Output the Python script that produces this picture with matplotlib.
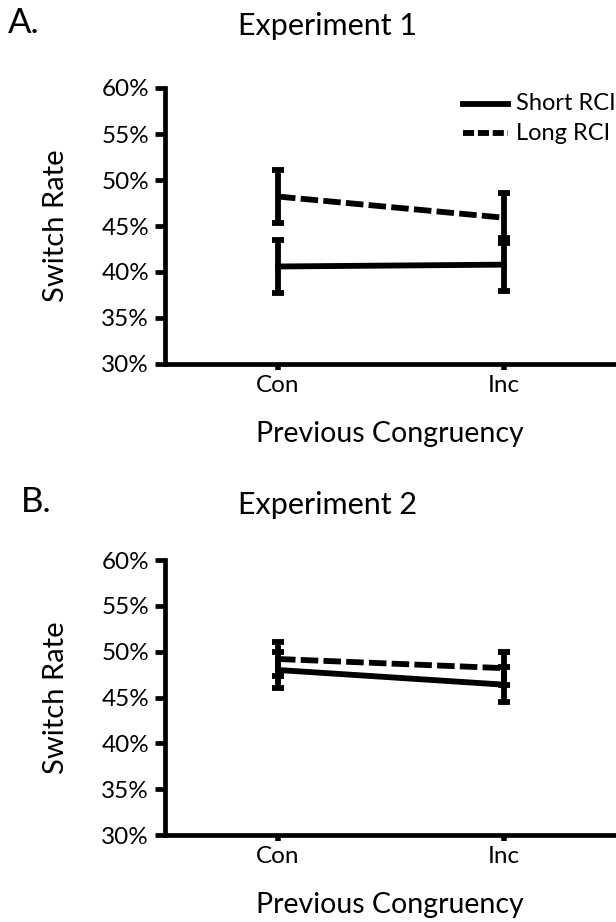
import matplotlib
matplotlib.use("Agg")
from matplotlib import pyplot as plt
import matplotlib.ticker as ticker

plt.rcParams['font.family'] = ['Lato', 'DejaVu Sans']

conditions = ["Con", "Inc"]
y_ticks = [30, 35, 40, 45, 50, 55, 60]

# Experiment 1 switch rates (%) and error bar half-widths
exp1_short = [40.6, 40.8]
exp1_short_err = [2.9, 2.9]
exp1_long = [48.2, 45.9]
exp1_long_err = [2.9, 2.7]

# Experiment 2
exp2_short = [48.0, 46.4]
exp2_short_err = [2.0, 1.9]
exp2_long = [49.2, 48.2]
exp2_long_err = [1.9, 1.8]

panels = [
    ("A.", "Experiment 1", exp1_short, exp1_short_err, exp1_long, exp1_long_err),
    ("B.", "Experiment 2", exp2_short, exp2_short_err, exp2_long, exp2_long_err),
]

W, H = 616, 922
fig = plt.figure(figsize=(W / 100, H / 100), dpi=100)

# axes boxes in pixels: left, top, right, bottom
boxes = [(165, 88, 617, 364), (165, 560, 617, 835)]
letter_pos = [(8, 23), (21, 502)]
title_y = [26, 505]
xlabel_y = [434, 905]

LW = 4.2
plot_dash = (0, (3.0, 0.9))
legend_dash = (0, (1.9, 0.65))

for n, (letter, title, short, short_err, long_, long_err) in enumerate(panels):
    l, t, r, b = boxes[n]
    ax = fig.add_axes([l / W, 1 - b / H, (r - l) / W, (b - t) / H])
    x = list(range(len(conditions)))
    ax.errorbar(x, short, yerr=short_err, color='black', lw=LW,
                elinewidth=LW, capsize=4.6, capthick=LW, clip_on=False)
    long_line = ax.errorbar(x, long_, yerr=long_err, color='black', lw=LW,
                            elinewidth=LW, capsize=4.6, capthick=LW, clip_on=False)
    long_line[0].set_linestyle(plot_dash)

    ax.set_xlim(-0.5, 1.5)
    ax.set_ylim(30, 60)
    ax.set_xticks(x)
    ax.set_xticklabels(conditions)
    ax.set_yticks(y_ticks)
    ax.yaxis.set_major_formatter(ticker.FormatStrFormatter("%d%%"))
    for s in ['top', 'right']:
        ax.spines[s].set_visible(False)
    for s in ['left', 'bottom']:
        ax.spines[s].set_linewidth(3.4)
        ax.spines[s].set_capstyle('projecting')
    ax.tick_params(axis='y', length=7, width=3.4, pad=4.5, labelsize=17.5)
    ax.tick_params(axis='x', length=4, width=4, pad=4, labelsize=17.5)

    if n == 0:
        fig.lines.append(plt.Line2D([463 / W, 508 / W], [1 - 104 / H, 1 - 104 / H],
                                    color='black', lw=LW, transform=fig.transFigure))
        fig.lines.append(plt.Line2D([463 / W, 508 / W], [1 - 133 / H, 1 - 133 / H],
                                    color='black', lw=LW, linestyle=legend_dash,
                                    transform=fig.transFigure))
        fig.text(516 / W, 1 - 103 / H, "Short RCI", fontsize=17, va='center', ha='left')
        fig.text(516 / W, 1 - 134 / H, "Long RCI", fontsize=17, va='center', ha='left')

    lx, ly = letter_pos[n]
    fig.text(lx / W, 1 - ly / H, letter, fontsize=25, va='center', ha='left')
    fig.text(328 / W, 1 - title_y[n] / H, title, fontsize=22, va='center', ha='center')
    fig.text(56 / W, 1 - ((t + b) / 2) / H, "Switch Rate", fontsize=21,
             rotation=90, va='center', ha='center')
    fig.text(390 / W, 1 - xlabel_y[n] / H, "Previous Congruency", fontsize=20.5,
             va='center', ha='center')

fig.savefig("out.png", dpi=100)
